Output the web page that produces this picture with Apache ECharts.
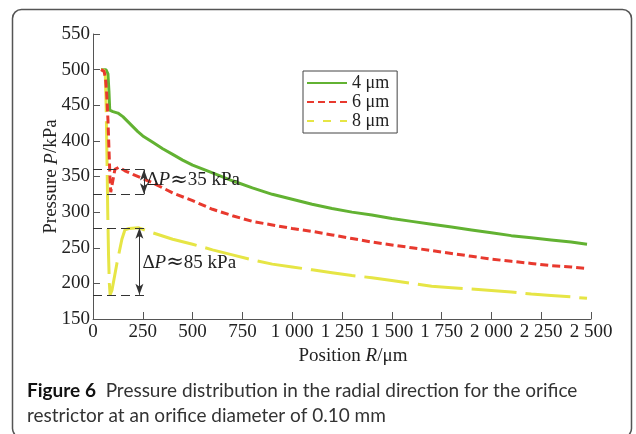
<!DOCTYPE html>
<html>
<head>
<meta charset="utf-8">
<script src="https://cdn.jsdelivr.net/npm/echarts@6/dist/echarts.min.js"></script>
<style>
  html, body { margin: 0; padding: 0; background: #fff; }
  #chart { width: 636px; height: 434px; }
</style>
</head>
<body>
<div id="chart"></div>
<script>
// pressure curves, [position R (μm), pressure P (kPa)]
const seriesNames = ["4 μm", "6 μm", "8 μm"];
const gap4 = [
  [40, 500], [65, 500], [75, 494], [80, 470], [84, 443], [100, 441], [125, 439],
  [150, 434], [175, 427], [200, 420], [225, 413], [250, 407], [300, 398], [350, 389],
  [400, 381], [450, 373], [500, 366], [600, 355], [700, 344], [800, 334], [900, 325],
  [1000, 318], [1100, 311], [1200, 305], [1300, 300], [1400, 296], [1500, 291],
  [1600, 287], [1700, 283], [1800, 279], [1900, 275], [2000, 271], [2100, 267],
  [2200, 264], [2300, 261], [2400, 258], [2480, 255]
];
const gap6 = [
  [40, 500], [55, 498], [62, 490], [68, 470], [75, 430], [80, 390], [85, 350],
  [89, 328], [95, 327], [110, 360], [130, 363], [160, 358], [200, 353], [250, 347],
  [300, 341], [400, 327], [500, 316], [600, 304], [700, 295], [800, 287], [900, 282],
  [1000, 277], [1100, 273], [1200, 268], [1300, 263], [1400, 258], [1500, 254],
  [1600, 250], [1700, 246], [1800, 242], [1900, 238], [2000, 234], [2100, 231],
  [2200, 228], [2300, 225], [2400, 223], [2480, 221]
];
const gap8 = [
  [40, 500], [55, 499], [62, 490], [66, 450], [70, 380], [74, 300], [78, 240],
  [82, 200], [86, 184], [95, 190], [105, 205], [120, 228], [145, 262], [160, 275],
  [180, 277], [230, 278], [300, 271], [400, 262], [500, 255], [600, 247], [700, 240],
  [800, 233], [900, 227], [1000, 223], [1100, 219], [1200, 215], [1300, 211],
  [1400, 208], [1500, 204], [1600, 200], [1700, 196], [1800, 194], [1900, 192],
  [2000, 190], [2100, 188], [2200, 185], [2300, 183], [2400, 181], [2480, 179]
];

// ΔP annotations: [top P, bottom P, arrow R, guide end R, label R, label P, text]
const dp35 = [360, 325, 256, 277, 268, 345, "35 kPa"];
const dp85 = [278, 184, 233, 270, 248, 229, "85 kPa"];

const xTicks = { min: 0, max: 2500, step: 250 };
const yTicks = { min: 150, max: 550, step: 50 };

const serif = "Liberation Serif";
const green = "#62b232";
const red = "#e8392e";
const yellow = "#e6e545";

// legend icons: solid, short dash, long dash (40 x 2)
const iconSolid = "path://M0,0h40v2h-40z";
const iconDash = "path://M0,0h7v2h-7zM11,0h7v2h-7zM22,0h7v2h-7zM33,0h7v2h-7z";
const iconLong = "path://M0,0h7v2h-7zM16,0h8v2h-8zM33,0h7v2h-7z";

const chart = echarts.init(document.getElementById("chart"));

const fmtThousands = (v) => {
  if (v < 1000) return String(v);
  const s = String(v);
  return s.slice(0, s.length - 3) + " " + s.slice(-3);
};

const guide = (p, r) => [
  { coord: [0, p], symbol: "none" },
  { coord: [r, p], symbol: "none" },
];
const arrow = (top, bottom, r) => [
  { coord: [r, top], symbol: "arrow", symbolSize: [6, 11], lineStyle: { type: "solid" } },
  { coord: [r, bottom], symbol: "arrow", symbolSize: [6, 11] },
];
const dpLabel = (d) => ({
  coord: [d[4], d[5]],
  symbol: "circle",
  symbolSize: 0,
  label: {
    show: true,
    position: "right",
    distance: 0,
    formatter: "{n|Δ}{i|P}{a|≈}{n|" + d[6] + "}",
    rich: {
      n: { fontFamily: serif, fontSize: 19, color: "#222" },
      i: { fontFamily: serif, fontSize: 19, fontStyle: "italic", color: "#222" },
      a: { fontFamily: "DejaVu Serif", fontSize: 21, color: "#222" },
    },
  },
});

const lineSeries = (name, data, color, dash, z) => ({
  name: name,
  type: "line",
  data: data,
  showSymbol: false,
  symbol: "none",
  smooth: false,
  z: z,
  itemStyle: { color: color },
  lineStyle: { color: color, width: 3, type: dash },
  animation: false,
});

const option = {
  animation: false,
  title: {
    left: 22,
    top: 373,
    text: "{b|Figure 6}  Pressure distribution in the radial direction for the orifice\nrestrictor at an orifice diameter of 0.10 mm",
    textStyle: {
      fontFamily: "Lato",
      fontSize: 19,
      fontWeight: "normal",
      color: "#333",
      lineHeight: 25,
      rich: {
        b: { fontFamily: "Lato", fontSize: 19, fontWeight: "bold", color: "#111", lineHeight: 25 },
      },
    },
  },
  graphic: [
    {
      type: "rect",
      shape: { x: 12.5, y: 9.5, width: 619, height: 428, r: 9 },
      style: { fill: "none", stroke: "#555", lineWidth: 1.5 },
      silent: true,
      z: -1,
    },
  ],
  legend: {
    orient: "vertical",
    left: 303,
    top: 71,
    padding: [3, 8, 3, 4],
    itemGap: 1,
    itemWidth: 40,
    itemHeight: 2,
    borderColor: "#444",
    borderWidth: 1,
    itemStyle: { borderWidth: 0 },
    textStyle: { fontFamily: serif, fontSize: 18, color: "#222", lineHeight: 18 },
    data: [
      { name: seriesNames[0], icon: iconSolid },
      { name: seriesNames[1], icon: iconDash },
      { name: seriesNames[2], icon: iconLong },
    ],
  },
  grid: { left: 93, right: 45, top: 34, bottom: 115, containLabel: false },
  xAxis: {
    type: "value",
    min: xTicks.min,
    max: xTicks.max,
    interval: xTicks.step,
    name: "Position {i|R}/μm",
    nameLocation: "middle",
    nameGap: 27,
    nameTextStyle: {
      fontFamily: serif,
      fontSize: 19,
      color: "#222",
      padding: [0, 0, 0, 22],
      rich: { i: { fontFamily: serif, fontSize: 19, fontStyle: "italic", color: "#222" } },
    },
    axisLine: { show: true, lineStyle: { color: "#555", width: 1 } },
    axisTick: { show: true, inside: true, length: 7, lineStyle: { color: "#555" } },
    axisLabel: {
      fontFamily: serif,
      fontSize: 19,
      color: "#222",
      margin: 4,
      showMinLabel: true,
      showMaxLabel: true,
      formatter: fmtThousands,
    },
    splitLine: { show: false },
  },
  yAxis: {
    type: "value",
    min: yTicks.min,
    max: yTicks.max,
    interval: yTicks.step,
    name: "Pressure {i|P}/kPa",
    nameLocation: "middle",
    nameGap: 32,
    nameMoveOverlap: false,
    nameTextStyle: {
      fontFamily: serif,
      fontSize: 19,
      color: "#222",
      rich: { i: { fontFamily: serif, fontSize: 19, fontStyle: "italic", color: "#222" } },
    },
    axisLine: { show: true, lineStyle: { color: "#555", width: 1 } },
    axisTick: { show: true, inside: true, length: 7, lineStyle: { color: "#555" } },
    axisLabel: { fontFamily: serif, fontSize: 19, color: "#222", margin: 3 },
    splitLine: { show: false },
  },
  series: [
    lineSeries(seriesNames[0], gap4, green, "solid", 2),
    lineSeries(seriesNames[1], gap6, red, [8, 4], 4),
    lineSeries(seriesNames[2], gap8, yellow, [45, 9], 3),
    {
      name: "annotations",
      type: "line",
      data: [],
      z: 5,
      markLine: {
        silent: true,
        animation: false,
        symbol: ["none", "none"],
        label: { show: false },
        lineStyle: { color: "#333", width: 1, type: [9, 5] },
        data: [
          guide(dp35[0], dp35[3]),
          guide(dp35[1], dp35[3]),
          arrow(dp35[0], dp35[1], dp35[2]),
          guide(dp85[0], dp85[3]),
          guide(dp85[1], dp85[3]),
          arrow(dp85[0], dp85[1], dp85[2]),
        ],
      },
      markPoint: {
        silent: true,
        animation: false,
        data: [dpLabel(dp35), dpLabel(dp85)],
      },
    },
  ],
};

chart.setOption(option);
</script>
</body>
</html>
